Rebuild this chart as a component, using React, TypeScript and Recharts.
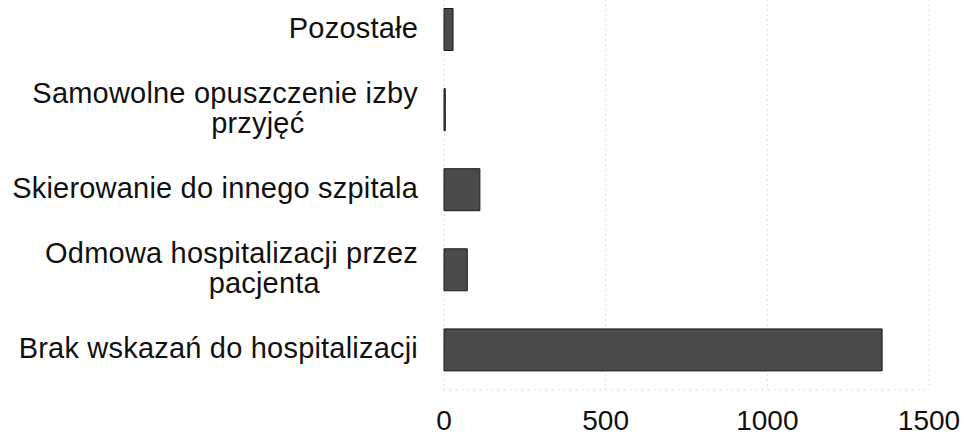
import React from "react";
import { BarChart, Bar, XAxis, YAxis, CartesianGrid } from "recharts";

const categories = [
  "Pozostałe",
  "Samowolne opuszczenie izby\nprzyjęć",
  "Skierowanie do innego szpitala",
  "Odmowa hospitalizacji przez\npacjenta",
  "Brak wskazań do hospitalizacji",
];
const values = [28, 4, 111, 72, 1355];
const xTicks = [0, 500, 1000, 1500];

const data = categories.map((c, i) => ({ name: c, value: values[i] }));

const FONT = "'Liberation Sans', Arial, sans-serif";
const FS = 29;

let ctx: CanvasRenderingContext2D | null = null;
function measure(t: string): number {
  if (!ctx) {
    const c = document.createElement("canvas");
    ctx = c.getContext("2d");
  }
  if (!ctx) return t.length * FS * 0.5;
  ctx.font = `${FS}px ${FONT}`;
  return ctx.measureText(t).width;
}

const YTick = (props: any) => {
  const { x, y, payload } = props;
  const lines: string[] = String(payload.value).split("\n");
  const lh = 30;
  const w0 = measure(lines[0]);
  const startY = y - ((lines.length - 1) * lh) / 2 - 2;
  return (
    <g>
      {lines.map((ln, i) => {
        if (i === 0) {
          return (
            <text key={i} x={x} y={startY} dy="0.36em" textAnchor="end" fontSize={FS} fontFamily={FONT} fill="#111" letterSpacing={0.2}>
              {ln}
            </text>
          );
        }
        return (
          <text key={i} x={x - w0 / 2 + 30} y={startY + i * lh} dy="0.36em" textAnchor="middle" fontSize={FS} fontFamily={FONT} fill="#111" letterSpacing={0.2}>
            {ln}
          </text>
        );
      })}
    </g>
  );
};

export default function App() {
  return (
    <div style={{ position: "absolute", left: 0, top: 0, width: 965, height: 436, overflow: "hidden", background: "#fff" }}>
      <div style={{ position: "absolute", left: 0, top: -20 }}>
        <BarChart
          width={965}
          height={456}
          data={data}
          layout="vertical"
          margin={{ top: 9.5, right: 36, bottom: 0, left: 0 }}
          barSize={42}
        >
          <CartesianGrid horizontal={false} vertical={true} stroke="#bdbdbd" strokeDasharray="1 4" />
          <XAxis
            type="number"
            domain={[0, 1500]}
            ticks={xTicks}
            tickLine={false}
            axisLine={{ stroke: "#bdbdbd", strokeDasharray: "1 5" }}
            tickSize={0}
            tickMargin={20}
            height={46}
            interval={0}
            tick={{ fontSize: 28, fontFamily: FONT, fill: "#111" }}
          />
          <YAxis
            type="category"
            dataKey="name"
            width={444}
            axisLine={false}
            tickLine={false}
            tickSize={0}
            tickMargin={26}
            interval={0}
            tick={<YTick />}
          />
          <Bar dataKey="value" fill="#4a4a4a" stroke="#1a1a1a" strokeWidth={1} isAnimationActive={false} />
        </BarChart>
      </div>
    </div>
  );
}
